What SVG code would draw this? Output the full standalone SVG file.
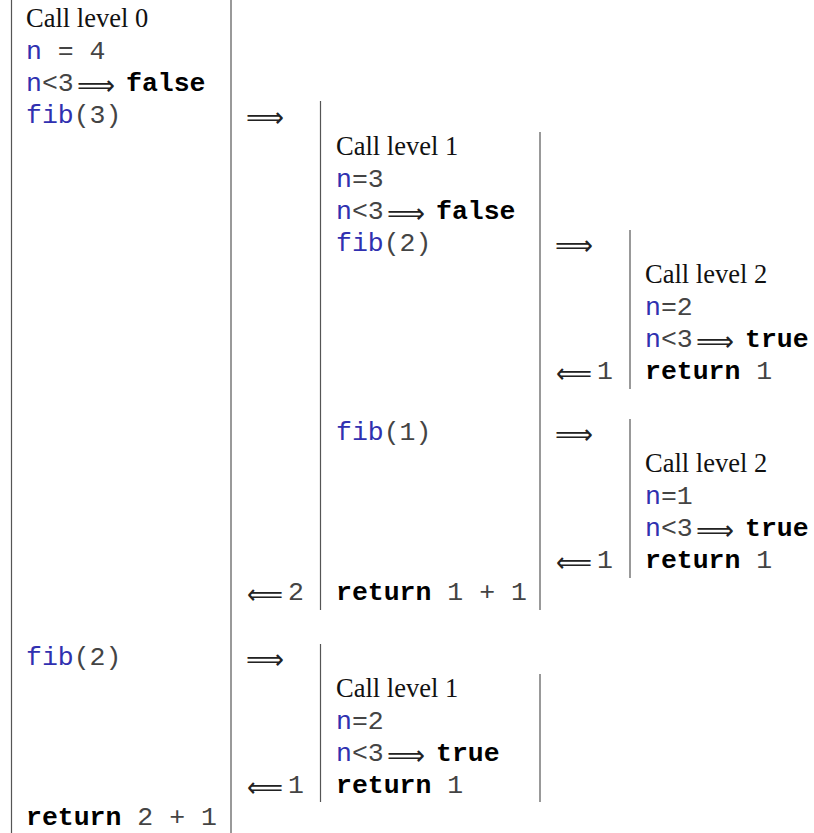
<svg xmlns="http://www.w3.org/2000/svg" width="814" height="833" viewBox="0 0 814 833">
<style>
text{white-space:pre}
.s{font-family:"Liberation Serif","Times New Roman",serif;font-size:26.5px;fill:#111}
.m{font-family:"Liberation Mono","Courier New",monospace;font-size:26.5px;fill:#444}
.b{font-weight:bold;fill:#000}
.v{fill:#3030b0}
.ar{font-family:"DejaVu Sans",sans-serif;font-size:28px;fill:#222}
.ln{stroke:#555;stroke-width:1.2;fill:none}
</style>
<g id="level0">
<line class="ln" x1="11.5" y1="0" x2="11.5" y2="833"/>
<line class="ln" x1="231" y1="0" x2="231" y2="833"/>
<text class="s" x="26" y="27">Call level 0</text>
<text class="m" x="26" y="59"><tspan class="v">n</tspan> = 4</text>
<text class="m" x="26" y="91"><tspan class="v">n</tspan>&lt;3<tspan class="ar" x="77" dy="4" textLength="38" lengthAdjust="spacingAndGlyphs">⟹</tspan><tspan class="b" x="126" dy="-4">false</tspan></text>
<text class="m" x="26" y="123"><tspan class="v">fib</tspan>(3)</text>
<text class="m" x="26" y="665"><tspan class="v">fib</tspan>(2)</text>
<text class="m" x="26" y="825"><tspan class="b">return</tspan> 2 + 1</text>
</g>
<g id="call1a">
<line class="ln" x1="320.5" y1="101" x2="320.5" y2="610"/>
<line class="ln" x1="540" y1="132" x2="540" y2="610"/>
<text class="s" x="336" y="155">Call level 1</text>
<text class="m" x="336" y="187"><tspan class="v">n</tspan>=3</text>
<text class="m" x="336" y="219"><tspan class="v">n</tspan>&lt;3<tspan class="ar" x="387" dy="4" textLength="38" lengthAdjust="spacingAndGlyphs">⟹</tspan><tspan class="b" x="436" dy="-4">false</tspan></text>
<text class="m" x="336" y="251"><tspan class="v">fib</tspan>(2)</text>
<text class="m" x="336" y="440"><tspan class="v">fib</tspan>(1)</text>
<text class="m" x="336" y="600"><tspan class="b">return</tspan> 1 + 1</text>
</g>
<g id="call2a">
<line class="ln" x1="630" y1="230" x2="630" y2="389"/>
<text class="s" x="645" y="283">Call level 2</text>
<text class="m" x="645" y="315"><tspan class="v">n</tspan>=2</text>
<text class="m" x="645" y="347"><tspan class="v">n</tspan>&lt;3<tspan class="ar" x="696" dy="4" textLength="38" lengthAdjust="spacingAndGlyphs">⟹</tspan><tspan class="b" x="745" dy="-4">true</tspan></text>
<text class="m" x="645" y="379"><tspan class="b">return</tspan> 1</text>
</g>
<g id="call2b">
<line class="ln" x1="630" y1="419" x2="630" y2="578"/>
<text class="s" x="645" y="472">Call level 2</text>
<text class="m" x="645" y="504"><tspan class="v">n</tspan>=1</text>
<text class="m" x="645" y="536"><tspan class="v">n</tspan>&lt;3<tspan class="ar" x="696" dy="4" textLength="38" lengthAdjust="spacingAndGlyphs">⟹</tspan><tspan class="b" x="745" dy="-4">true</tspan></text>
<text class="m" x="645" y="568"><tspan class="b">return</tspan> 1</text>
</g>
<g id="call1b">
<line class="ln" x1="320.5" y1="644" x2="320.5" y2="802"/>
<line class="ln" x1="540" y1="674" x2="540" y2="802"/>
<text class="s" x="336" y="697">Call level 1</text>
<text class="m" x="336" y="729"><tspan class="v">n</tspan>=2</text>
<text class="m" x="336" y="761"><tspan class="v">n</tspan>&lt;3<tspan class="ar" x="387" dy="4" textLength="38" lengthAdjust="spacingAndGlyphs">⟹</tspan><tspan class="b" x="436" dy="-4">true</tspan></text>
<text class="m" x="336" y="793"><tspan class="b">return</tspan> 1</text>
</g>
<g id="connectors">
<text class="ar" x="246" y="127" textLength="38" lengthAdjust="spacingAndGlyphs">⟹</text>
<text class="ar" x="555" y="255" textLength="38" lengthAdjust="spacingAndGlyphs">⟹</text>
<text class="m" y="379"><tspan class="ar" x="556" dy="4" textLength="36" lengthAdjust="spacingAndGlyphs">⟸</tspan><tspan x="597" dy="-4">1</tspan></text>
<text class="ar" x="555" y="444" textLength="38" lengthAdjust="spacingAndGlyphs">⟹</text>
<text class="m" y="568"><tspan class="ar" x="556" dy="4" textLength="36" lengthAdjust="spacingAndGlyphs">⟸</tspan><tspan x="597" dy="-4">1</tspan></text>
<text class="m" y="600"><tspan class="ar" x="247" dy="4" textLength="36" lengthAdjust="spacingAndGlyphs">⟸</tspan><tspan x="288" dy="-4">2</tspan></text>
<text class="ar" x="246" y="669" textLength="38" lengthAdjust="spacingAndGlyphs">⟹</text>
<text class="m" y="793"><tspan class="ar" x="247" dy="4" textLength="36" lengthAdjust="spacingAndGlyphs">⟸</tspan><tspan x="288" dy="-4">1</tspan></text>
</g>
</svg>
